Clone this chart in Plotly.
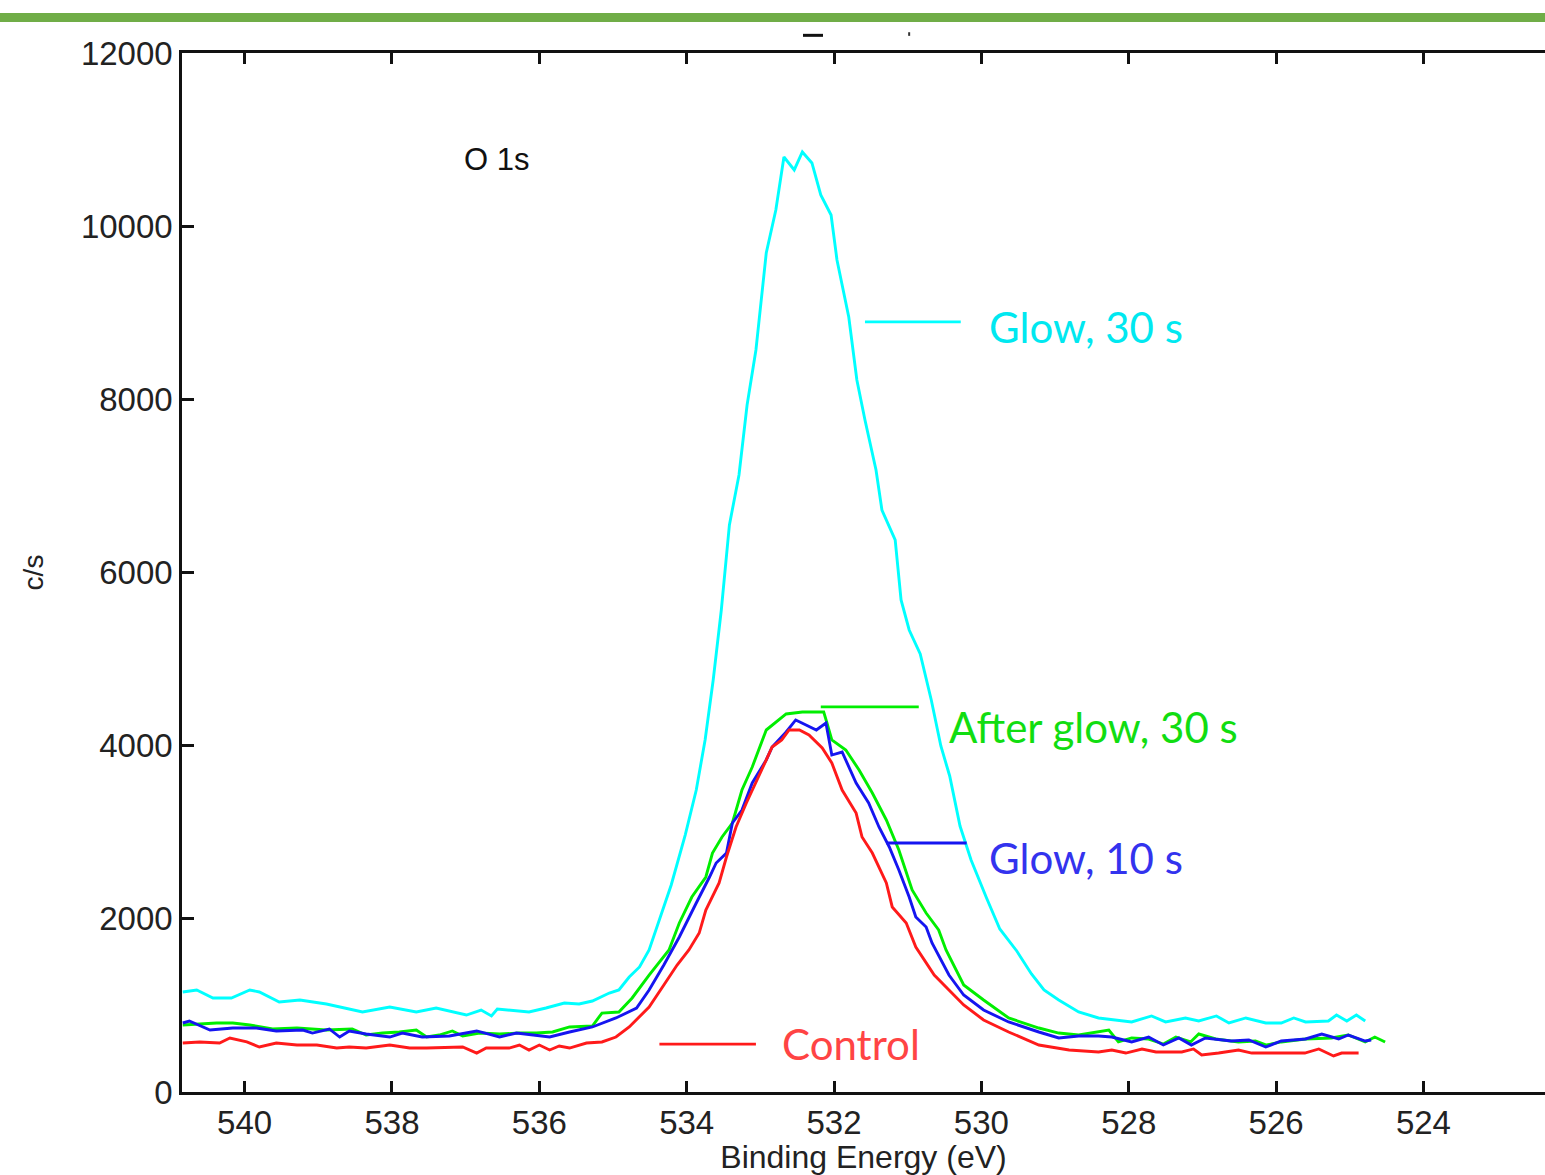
import plotly.graph_objects as go

# ---------------- data (binding energy in eV, intensity in c/s) ----------------
glow30_E = [540.84, 540.65, 540.43, 540.18, 539.93, 539.80, 539.53, 539.25, 538.89, 538.40,
            538.03, 537.67, 537.40, 536.99, 536.79, 536.65, 536.57, 536.14, 535.91, 535.66,
            535.46, 535.28, 535.05, 534.92, 534.78, 534.64, 534.51, 534.37, 534.21, 534.02,
            533.87, 533.75, 533.64, 533.53, 533.42, 533.29, 533.18, 533.06, 532.92, 532.79,
            532.68, 532.54, 532.43, 532.30, 532.18, 532.04, 531.96, 531.80, 531.69, 531.58,
            531.43, 531.35, 531.17, 531.09, 530.98, 530.83, 530.68, 530.55, 530.43, 530.29,
            530.14, 529.93, 529.75, 529.52, 529.32, 529.15, 528.95, 528.68, 528.41, 527.96,
            527.69, 527.50, 527.23, 527.05, 526.81, 526.64, 526.41, 526.14, 525.93, 525.76,
            525.60, 525.29, 525.18, 525.04, 524.91, 524.79]
glow30_I = [1155, 1178, 1086, 1086, 1178, 1155, 1040, 1063, 1016, 924,
            982, 924, 970, 889, 947, 878, 959, 924, 970, 1028,
            1016, 1051, 1143, 1178, 1328, 1444, 1640, 1987, 2391, 2968,
            3488, 4066, 4759, 5567, 6549, 7126, 7935, 8570, 9690, 10187,
            10799, 10649, 10857, 10730, 10360, 10129, 9610, 8951, 8224, 7762,
            7184, 6722, 6376, 5683, 5336, 5059, 4528, 3996, 3650, 3072,
            2680, 2241, 1883, 1629, 1363, 1178, 1063, 924, 855, 809,
            878, 809, 855, 820, 878, 797, 855, 797, 797, 855,
            809, 820, 889, 820, 889, 820]

control_E = [540.84, 540.61, 540.34, 540.20, 539.97, 539.80, 539.57, 539.29, 539.02, 538.75,
             538.58, 538.35, 538.03, 537.76, 537.53, 537.22, 537.04, 536.85, 536.72, 536.41,
             536.27, 536.14, 536.00, 535.86, 535.73, 535.59, 535.36, 535.15, 534.96, 534.78,
             534.64, 534.51, 534.31, 534.13, 533.97, 533.83, 533.74, 533.56, 533.46, 533.33,
             533.19, 533.06, 532.92, 532.84, 532.71, 532.61, 532.47, 532.34, 532.16, 532.03,
             531.89, 531.70, 531.62, 531.48, 531.29, 531.21, 531.02, 530.89, 530.64, 530.44,
             530.24, 529.97, 529.63, 529.22, 528.81, 528.41, 528.23, 528.04, 527.82, 527.63,
             527.28, 527.12, 527.01, 526.78, 526.51, 526.33, 526.01, 525.61, 525.42, 525.29,
             525.22, 525.11, 524.88]
control_I = [566, 578, 566, 624, 578, 520, 566, 543, 543, 508,
             520, 508, 543, 508, 508, 520, 520, 450, 508, 508,
             543, 485, 543, 485, 531, 508, 566, 578, 635, 751,
             866, 982, 1236, 1467, 1640, 1836, 2102, 2414, 2714, 3061,
             3338, 3569, 3835, 3985, 4066, 4181, 4181, 4123, 3973, 3800,
             3488, 3222, 2945, 2760, 2414, 2137, 1952, 1675, 1351, 1178,
             1005, 832, 693, 543, 485, 462, 485, 450, 497, 462,
             462, 497, 427, 450, 485, 450, 450, 450, 497, 450,
             416, 450, 450]

glow10_E = [540.84, 540.75, 540.47, 540.16, 539.84, 539.57, 539.21, 539.08, 538.85, 538.71,
            538.58, 538.35, 538.03, 537.86, 537.59, 537.22, 536.85, 536.54, 536.31, 535.86,
            535.59, 535.28, 534.96, 534.68, 534.51, 534.31, 534.10, 533.97, 533.87, 533.69,
            533.60, 533.46, 533.38, 533.25, 533.11, 532.92, 532.84, 532.65, 532.52, 532.38,
            532.24, 532.11, 532.03, 531.89, 531.70, 531.53, 531.39, 531.25, 531.12, 530.98,
            530.89, 530.75, 530.67, 530.44, 530.24, 529.97, 529.63, 529.22, 528.95, 528.68,
            528.41, 528.23, 527.96, 527.73, 527.53, 527.32, 527.15, 526.96, 526.61, 526.37,
            526.14, 525.93, 525.60, 525.38, 525.15, 525.02, 524.79, 524.71]
glow10_I = [797, 820, 716, 739, 739, 705, 716, 681, 728, 635,
            705, 670, 635, 681, 635, 647, 705, 635, 681, 635,
            693, 751, 855, 970, 1178, 1467, 1790, 2021, 2183, 2483,
            2645, 2760, 3107, 3257, 3569, 3835, 3985, 4158, 4297, 4239,
            4181, 4262, 3892, 3927, 3569, 3338, 3061, 2830, 2564, 2252,
            2021, 1906, 1721, 1351, 1120, 947, 809, 693, 624, 647,
            647, 635, 578, 635, 543, 624, 543, 624, 589, 601,
            520, 589, 612, 670, 612, 658, 589, 601]

after30_E = [540.84, 540.38, 540.16, 539.93, 539.62, 539.29, 538.89, 538.54, 538.35, 538.13,
             537.90, 537.67, 537.53, 537.36, 537.18, 537.04, 536.81, 536.54, 536.27, 536.04,
             535.82, 535.59, 535.28, 535.15, 534.92, 534.74, 534.51, 534.24, 534.10, 533.93,
             533.74, 533.65, 533.52, 533.38, 533.25, 533.11, 532.92, 532.75, 532.65, 532.43,
             532.30, 532.14, 532.10, 532.03, 531.84, 531.66, 531.48, 531.29, 531.12, 530.94,
             530.75, 530.58, 530.48, 530.24, 529.97, 529.63, 529.22, 528.95, 528.68, 528.41,
             528.27, 528.14, 527.96, 527.73, 527.53, 527.36, 527.16, 527.05, 526.82, 526.51,
             526.28, 526.13, 525.93, 525.60, 525.25, 525.02, 524.79, 524.66, 524.52]
after30_I = [774, 797, 797, 774, 728, 739, 716, 728, 658, 681,
             693, 716, 635, 658, 705, 647, 681, 670, 681, 681,
             693, 751, 762, 912, 924, 1086, 1351, 1640, 1952, 2252,
             2483, 2760, 2945, 3107, 3488, 3754, 4181, 4297, 4366, 4389,
             4389, 4389, 4274, 4066, 3950, 3719, 3453, 3142, 2795, 2333,
             2067, 1871, 1640, 1236, 1063, 855, 739, 681, 658, 693,
             716, 578, 624, 612, 554, 635, 578, 670, 612, 578,
             589, 543, 578, 612, 624, 658, 578, 635, 578]

# label texts and their key-line positions (eV, c/s)
label_names = ["Glow, 30 s", "After glow, 30 s", "Glow, 10 s", "Control"]
label_text_E = [529.93, 530.47, 529.93, 532.73]
label_text_I = [8836, 4216, 2703, 554]
key_E0 = [531.58, 532.18, 531.29, 534.37]
key_E1 = [530.28, 530.85, 530.20, 533.06]
key_I = [8894, 4447, 2876, 554]

x_ticks = [540, 538, 536, 534, 532, 530, 528, 526, 524]
y_ticks = [0, 2000, 4000, 6000, 8000, 10000, 12000]

# ---------------- styles ----------------
line_cols = ["#00FFFF", "#00EE00", "#1515F0", "#FF1A1A"]
text_cols = ["#00E8F0", "#11DD11", "#3333EE", "#FF4444"]

fig = go.Figure()
series = [(glow30_E, glow30_I), (after30_E, after30_I), (glow10_E, glow10_I), (control_E, control_I)]
for (ex, iy), col, name in zip(series, line_cols, label_names):
    fig.add_trace(go.Scatter(x=ex, y=iy, mode="lines", name=name,
                             line=dict(color=col, width=2.9), showlegend=False))

# key lines next to the labels
for e0, e1, yy, col in zip(key_E0, key_E1, key_I, line_cols):
    fig.add_trace(go.Scatter(x=[e0, e1], y=[yy, yy], mode="lines",
                             line=dict(color=col, width=2.8), showlegend=False,
                             hoverinfo="skip"))

annotations = []
for name, ex, iy, col in zip(label_names, label_text_E, label_text_I, text_cols):
    annotations.append(dict(x=ex, y=iy, xref="x", yref="y", text=name, showarrow=False,
                            xanchor="left", yanchor="middle",
                            font=dict(family="Lato", size=42, color=col)))
annotations.append(dict(x=536.58, y=10765, xref="x", yref="y", text="O 1s", showarrow=False,
                        xanchor="center", yanchor="middle",
                        font=dict(family="Liberation Sans", size=31, color="#111111")))

shapes = [
    # green band at the top of the slide
    dict(type="rect", xref="paper", yref="paper", x0=-0.14, x1=1.0, y0=1.0298, y1=1.0385,
         fillcolor="#70AD47", line=dict(width=0), layer="above"),
    # remnants of a cropped title
    dict(type="line", xref="paper", yref="paper", x0=0.4556, x1=0.4703, y0=1.0170, y1=1.0170,
         line=dict(color="#111111", width=3)),
    dict(type="line", xref="paper", yref="paper", x0=0.5335, x1=0.5335, y0=1.0165, y1=1.0200,
         line=dict(color="#333333", width=2)),
]

fig.update_layout(
    width=1545, height=1175,
    margin=dict(l=182, r=0, t=53, b=83),
    paper_bgcolor="white", plot_bgcolor="white",
    annotations=annotations, shapes=shapes,
    font=dict(family="Liberation Sans", color="#222222"),
)
fig.update_xaxes(range=[540.85, 522.35], tickvals=x_ticks, ticktext=[str(v) for v in x_ticks],
                 showgrid=False, zeroline=False, showline=True, linecolor="#111111", linewidth=2.5,
                 mirror="ticks", ticks="inside", ticklen=11, tickwidth=2.5, tickcolor="#111111",
                 tickfont=dict(family="Liberation Sans", size=33, color="#222222"),
                 title=dict(text="Binding Energy (eV)", standoff=4,
                            font=dict(family="Liberation Sans", size=32, color="#222222")))
fig.update_yaxes(range=[0, 12000], tickvals=y_ticks, ticktext=[str(v) for v in y_ticks],
                 showgrid=False, zeroline=False, showline=True, linecolor="#111111", linewidth=2.5,
                 mirror=False, ticks="inside", ticklen=12, tickwidth=2.5, tickcolor="#111111",
                 tickfont=dict(family="Liberation Sans", size=33, color="#222222"),
                 title=dict(text="c/s", standoff=30,
                            font=dict(family="Liberation Sans", size=28, color="#222222")))

fig.write_html("out.html", config={"displayModeBar": False},
               post_script="document.body.style.margin='0';document.body.style.overflow='hidden';")
